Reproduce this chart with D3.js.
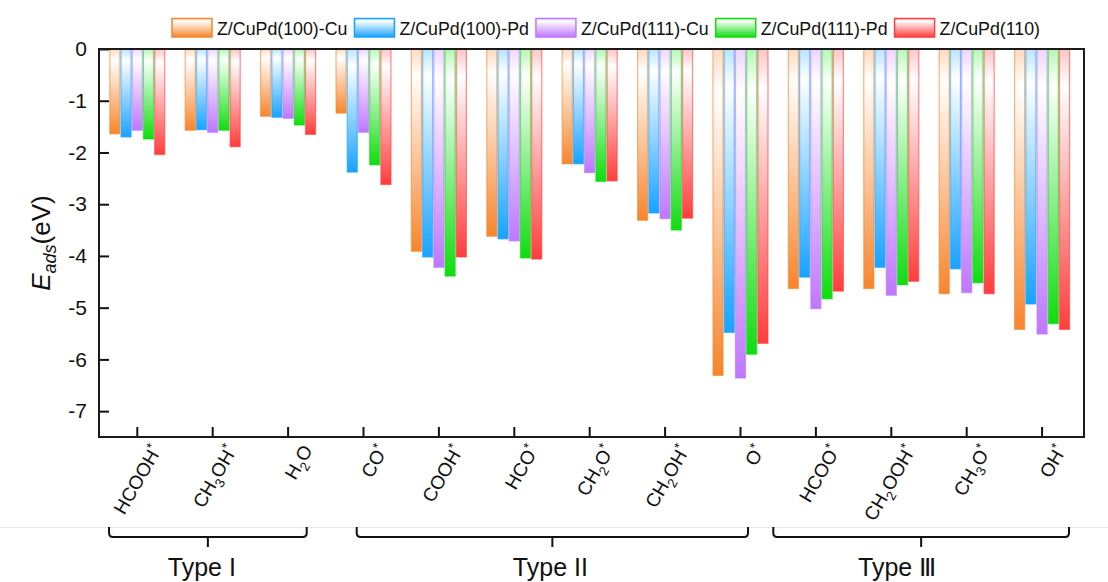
<!DOCTYPE html>
<html>
<head>
<meta charset="utf-8">
<script src="https://cdn.jsdelivr.net/npm/d3@7"></script>
<style>
  body { margin: 0; background: #fff; }
  svg text { font-family: Arial, "Liberation Sans", sans-serif; fill: #111; }
</style>
</head>
<body>
<svg id="chart" width="1108" height="582"></svg>
<script>
// Adsorbates ("_x" = subscript, "^x" = superscript)
const adsorbates = ["HCOOH^*", "CH_3OH^*", "H_2O", "CO^*", "COOH^*", "HCO^*", "CH_2O^*",
                    "CH_2OH^*", "O^*", "HCOO^*", "CH_2OOH^*", "CH_3O^*", "OH^*"];
const surfaces = ["Z/CuPd(100)-Cu", "Z/CuPd(100)-Pd", "Z/CuPd(111)-Cu", "Z/CuPd(111)-Pd", "Z/CuPd(110)"];

// Adsorption energies (eV) per surface site, in adsorbate order
const cu100 = [-1.64, -1.57, -1.30, -1.24, -3.91, -3.62, -2.22, -3.31, -6.31, -4.63, -4.63, -4.73, -5.42];
const pd100 = [-1.70, -1.56, -1.32, -2.38, -4.02, -3.67, -2.22, -3.17, -5.48, -4.41, -4.22, -4.25, -4.93];
const cu111 = [-1.57, -1.61, -1.34, -1.61, -4.22, -3.71, -2.39, -3.28, -6.36, -5.02, -4.76, -4.71, -5.51];
const pd111 = [-1.74, -1.57, -1.47, -2.24, -4.39, -4.04, -2.56, -3.50, -5.90, -4.83, -4.56, -4.52, -5.31];
const s110  = [-2.04, -1.89, -1.65, -2.62, -4.02, -4.06, -2.55, -3.27, -5.69, -4.68, -4.49, -4.73, -5.42];
const seriesValues = [cu100, pd100, cu111, pd111, s110];

const yTicks = [0, -1, -2, -3, -4, -5, -6, -7];
const typeNames = ["Type I", "Type II", "Type Ⅲ"];
const typeMembers = [[0, 2], [3, 8], [9, 12]];

const colors = ["#F7852C", "#18A2FF", "#BE77FF", "#10DC10", "#FF3D3D"];

// ---- layout ----
const svg = d3.select("#chart");
const plot = { left: 99, right: 1084, top: 49, bottom: 437 };

const x = d3.scaleBand().domain(adsorbates)
  .range([plot.left, plot.right]).paddingInner(0).paddingOuter(0.032).align(0.125);
const y = d3.scaleLinear().domain([-7.5, 0]).range([plot.bottom, plot.top]);
const xs = d3.scaleBand().domain(surfaces).range([-27.5, 27.5]).paddingInner(0.1);
const cx = d => x(d) + x.bandwidth() / 2;

// gradients: tinted top, white band, saturated bottom
const defs = svg.append("defs");
colors.forEach((c, i) => {
  const g = defs.append("linearGradient").attr("id", "grad" + i)
    .attr("x1", 0).attr("y1", 0).attr("x2", 0).attr("y2", 1);
  g.append("stop").attr("offset", "0").attr("stop-color", d3.interpolateRgb(c, "#fff")(0.7));
  g.append("stop").attr("offset", "0.13").attr("stop-color", "#fff");
  g.append("stop").attr("offset", "1").attr("stop-color", c);
});

// faint separator under the tick labels
svg.append("line").attr("x1", 0).attr("x2", 1108).attr("y1", 527.5).attr("y2", 527.5)
  .attr("stroke", "#e8e8e8").attr("stroke-width", 1);

// bars
const groups = svg.append("g").selectAll("g").data(adsorbates).join("g")
  .attr("transform", d => `translate(${cx(d)},0)`);
groups.selectAll("rect")
  .data((d, i) => surfaces.map((s, k) => ({ s, k, v: seriesValues[k][i] })))
  .join("rect")
  .attr("x", d => xs(d.s))
  .attr("y", y(0))
  .attr("width", xs.bandwidth())
  .attr("height", d => y(d.v) - y(0))
  .attr("fill", d => `url(#grad${d.k})`)
  .attr("stroke", d => colors[d.k])
  .attr("stroke-opacity", 0.6)
  .attr("stroke-width", 1.2);

// axes with inward ticks
const yAxis = svg.append("g").attr("transform", `translate(${plot.left},0)`)
  .call(d3.axisLeft(y).tickValues(yTicks).tickSize(-10).tickPadding(12)
    .tickFormat(d => d === 0 ? "0" : "-" + Math.abs(d)));
yAxis.select(".domain").remove();
yAxis.selectAll("line").attr("stroke", "#111").attr("stroke-width", 2);
yAxis.selectAll("text").attr("font-size", 21).attr("font-family", "Arial, 'Liberation Sans', sans-serif").attr("fill", "#111");

const xAxis = svg.append("g").attr("transform", `translate(0,${plot.bottom})`)
  .call(d3.axisBottom(x).tickSize(-10).tickFormat(""));
xAxis.select(".domain").remove();
xAxis.selectAll("line").attr("stroke", "#111").attr("stroke-width", 2);

// frame
svg.append("rect").attr("x", plot.left).attr("y", plot.top)
  .attr("width", plot.right - plot.left).attr("height", plot.bottom - plot.top)
  .attr("fill", "none").attr("stroke", "#1a1a1a").attr("stroke-width", 2);

// rich text with sub/superscripts
function richText(textSel, label, size) {
  const shiftSub = size * 0.3, shiftSup = size * 0.38;
  let offset = 0;
  let i = 0, buf = "";
  const flush = () => { if (buf) { textSel.append("tspan").attr("dy", -offset).text(buf); offset = 0; buf = ""; } };
  while (i < label.length) {
    const ch = label[i];
    if (ch === "_" || ch === "^") {
      flush();
      const shift = ch === "_" ? shiftSub : -shiftSup;
      textSel.append("tspan").attr("font-size", size * 0.7).attr("dy", shift - offset).text(label[i + 1]);
      offset = shift;
      i += 2;
    } else { buf += ch; i++; }
  }
  flush();
}

// rotated category labels
adsorbates.forEach(a => {
  const t = svg.append("text")
    .attr("transform", `translate(${cx(a) + 25},450) rotate(-60)`)
    .attr("text-anchor", "end").attr("font-size", 19);
  richText(t, a, 19);
});

// y title
const yt = svg.append("text").attr("transform", "translate(50,243) rotate(-90)")
  .attr("text-anchor", "middle").attr("font-size", 26);
yt.append("tspan").attr("font-style", "italic").text("E");
yt.append("tspan").attr("font-style", "italic").attr("font-size", 18).attr("dy", 6).text("ads");
yt.append("tspan").attr("dy", -6).text("(eV)");

// legend
let lx = 172;
surfaces.forEach((s, k) => {
  svg.append("rect").attr("x", lx).attr("y", 18.5).attr("width", 40).attr("height", 18.5)
    .attr("fill", `url(#grad${k})`).attr("stroke", colors[k]).attr("stroke-width", 1.5);
  const t = svg.append("text").attr("x", lx + 45).attr("y", 35).attr("font-size", 17.8).text(s);
  lx += 45 + t.node().getComputedTextLength() + 7;
});

// type brackets
const bracketPad = [[-0.375, 0.247], [-0.09, 0.10], [-0.565, 0.357]];
const labelShift = [-6, -2, -24];
typeMembers.forEach(([a, b], j) => {
  const step = x.step();
  const L = cx(adsorbates[a]) + bracketPad[j][0] * step;
  const R = cx(adsorbates[b]) + bracketPad[j][1] * step;
  const M = (L + R) / 2;
  svg.append("path")
    .attr("d", `M${L},527 V533 Q${L},537 ${L + 4},537 H${R - 4} Q${R},537 ${R},533 V527 M${M},537 V547`)
    .attr("fill", "none").attr("stroke", "#111").attr("stroke-width", 2);
  svg.append("text").attr("x", M + labelShift[j]).attr("y", 576)
    .attr("text-anchor", "middle").attr("font-size", 25).text(typeNames[j]);
});
</script>
</body>
</html>
